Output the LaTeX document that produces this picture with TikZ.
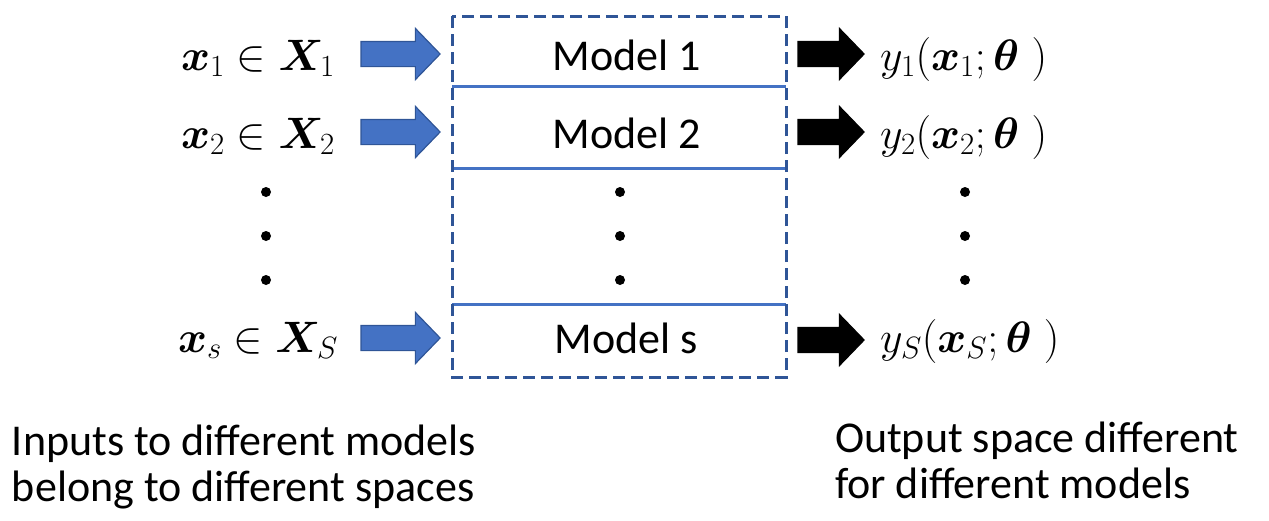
\RequirePackage{fix-cm}
\documentclass[tikz,border=0pt]{standalone}
\usepackage{fontspec}
\setmainfont{Carlito}
\usepackage{amsmath,bm}
\usetikzlibrary{shapes.arrows}
\definecolor{accblue}{HTML}{4472C4}
\definecolor{darkblue}{HTML}{2F5597}
\begin{document}
\begin{tikzpicture}[x=1pt,y=-1pt,
  txt/.style={inner sep=0pt,outer sep=0pt,font=\fontsize{44}{46}\selectfont},
  blockarrow/.style={single arrow,draw,line width=1.2pt,inner sep=12pt,outer sep=0pt,
     single arrow head extend=13pt,single arrow tip angle=92,single arrow head indent=0pt,
     minimum height=79pt},
  inarrow/.style={blockarrow,fill=accblue,draw=darkblue},
  outarrow/.style={blockarrow,fill=black,draw=black,minimum height=66pt},
  sep/.style={draw=accblue,line width=3pt},
  dot/.style={circle,fill=black,inner sep=0pt,minimum size=10pt}]
\useasboundingbox (0,0) rectangle (1269,520);
% model box
\coordinate (bl) at (452,16);
\coordinate (br) at (786,377);
\foreach \yy/\nm in {86/s1,168/s2,304/s3}{
  \coordinate (\nm w) at (452,\yy);
  \coordinate (\nm e) at (786,\yy);
  \draw[sep] (\nm w) -- (\nm e);
}
\draw[darkblue,line width=3pt,dash pattern=on 12pt off 6pt] (bl) rectangle (br);
% models
\node[txt,anchor=base] (m1) at (627,70) {Model 1};
\node[txt,anchor=base] (m2) at (627,148) {Model 2};
\node[txt,anchor=base] (ms) at (626,353) {Model s};
% inputs
\node[txt,anchor=base] (i1) at (258,70) {$\bm{x}_1 \in \bm{X}_1$};
\node[txt,anchor=base] (i2) at (258,148) {$\bm{x}_2 \in \bm{X}_2$};
\node[txt,anchor=base] (is) at (258,352) {$\bm{x}_s \in \bm{X}_S$};
% outputs
\node[txt,anchor=base west] (o1) at (880,70) {$y_1(\bm{x}_1;\bm{\theta}\;)$};
\node[txt,anchor=base west] (o2) at (880,148) {$y_2(\bm{x}_2;\bm{\theta}\;)$};
\node[txt,anchor=base west] (os) at (880,352) {$y_S(\bm{x}_S;\bm{\theta}\;)$};
% arrows
\node[inarrow] (a1) at (394.5,54) {};
\node[inarrow] (a2) at (394.5,132) {};
\node[inarrow] (as) at (394.5,338) {};
\node[outarrow] (b1) at (825,54) {};
\node[outarrow] (b2) at (825,132) {};
\node[outarrow] (bs) at (825,340) {};
% dots
\foreach \xx/\cl in {266/L,620/M,965/R}{
  \foreach \yy/\k in {192/1,236/2,280/3}{
    \node[dot] (d\cl\k) at (\xx,\yy) {};
  }
}
% captions
\node[txt,anchor=west,align=left] (capL) at (12,467) {Inputs to different models\\belong to different spaces};
\node[txt,anchor=west,align=left] (capR) at (835,460) {Output space different\\for different models};
\end{tikzpicture}
\end{document}
